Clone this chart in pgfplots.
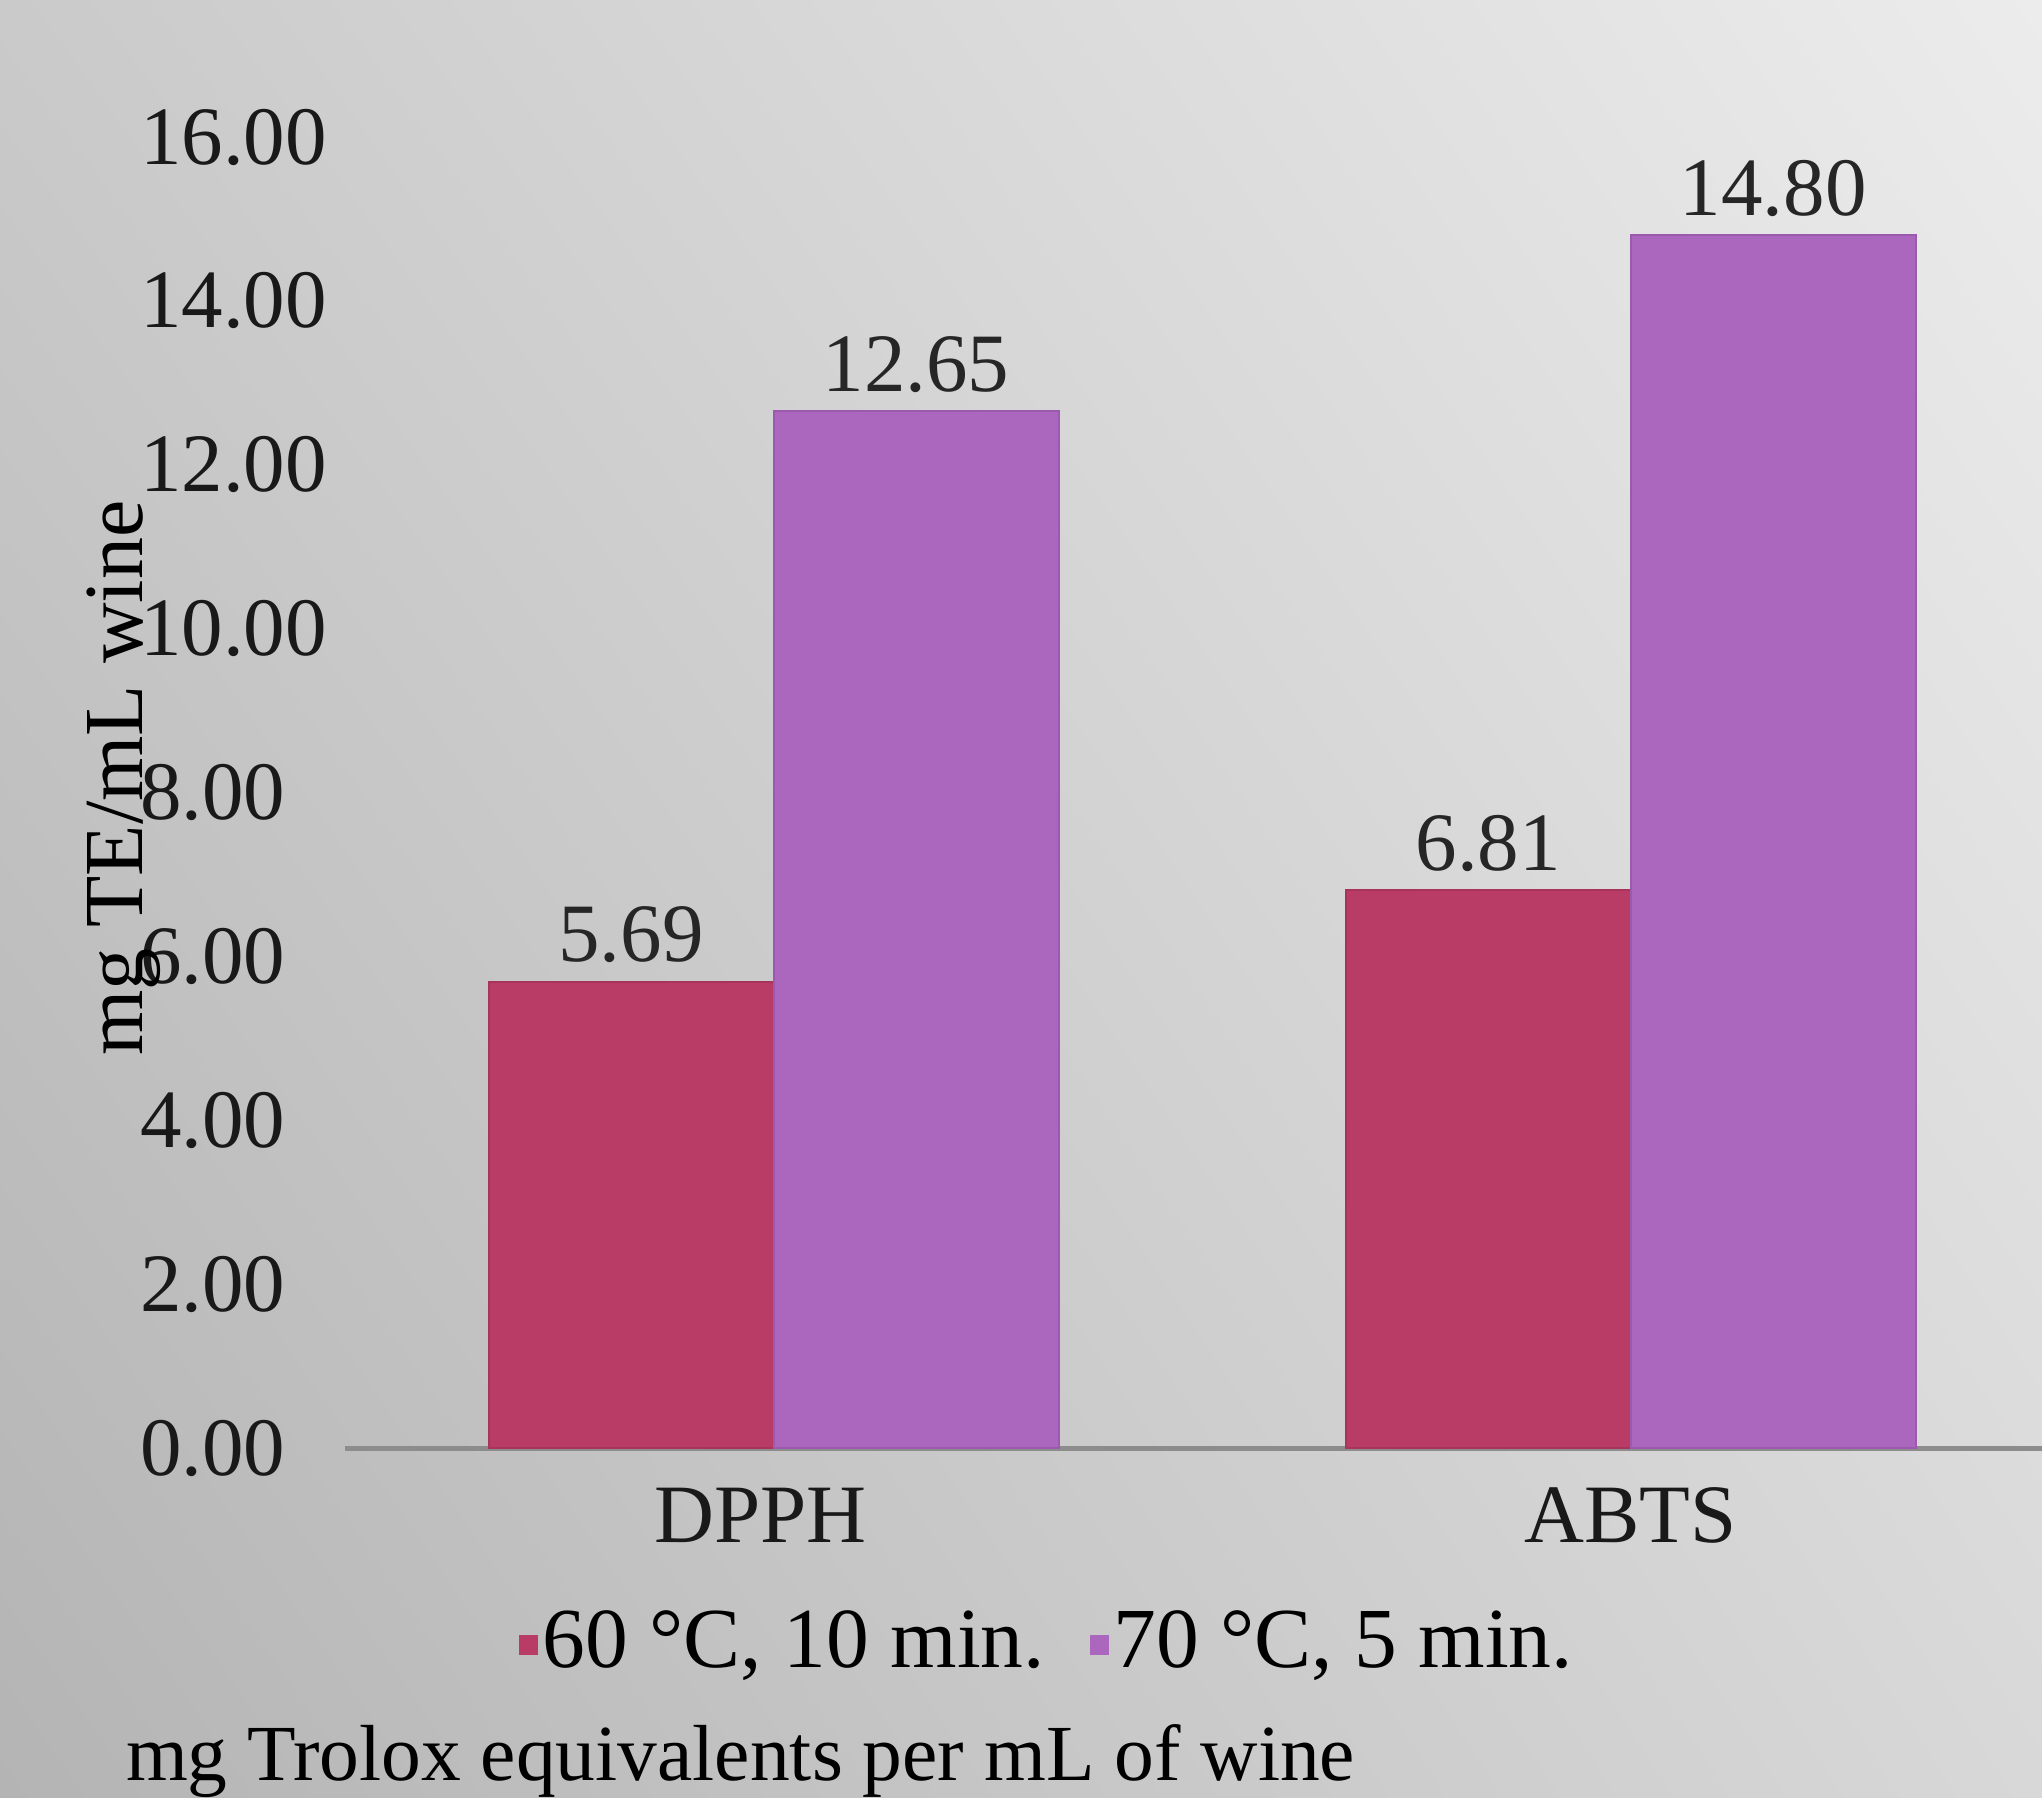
\documentclass[border=0pt]{standalone}
\usepackage{fontspec}
\setmainfont{Liberation Serif}
\usepackage{pgfplots}
\pgfplotsset{compat=1.18}
\usetikzlibrary{shadings}
\definecolor{barA}{HTML}{B83C66}
\definecolor{barB}{HTML}{AB66BE}
\definecolor{barAe}{HTML}{A8335C}
\definecolor{barBe}{HTML}{9C5AAE}
\definecolor{bgUL}{HTML}{CACACA}
\definecolor{bgUR}{HTML}{ECECEC}
\definecolor{bgLL}{HTML}{B4B4B4}
\definecolor{bgLR}{HTML}{D8D8D8}
\definecolor{axisgray}{HTML}{8C8C8C}
\newcommand\chfont{\fontsize{16.6}{20}\selectfont}
\begin{document}
\begin{tikzpicture}
\path[use as bounding box] (0,0) rectangle (408.4pt,359.4pt);
\shade[upper left=bgUL, upper right=bgUR, lower left=bgLL, lower right=bgLR] (0,0) rectangle (408.4pt,359.4pt);
\begin{axis}[
  at={(69pt,69.8pt)}, anchor=south west,
  scale only axis, width=339.4pt, height=262.2pt,
  xmin=-0.5, xmax=1.48, ymin=0, ymax=16,
  ytick={0,2,...,16},
  xtick={0,1}, xticklabels={DPPH\rule{5.2pt}{0pt},ABTS},
  axis x line*=bottom, axis y line*=left,
  y axis line style={draw=none},
  x axis line style={draw=axisgray, line width=1pt},
  tick style={draw=none},
  ybar=0pt, bar width=57pt,
  /pgf/number format/assume math mode=true,
  tick label style={font=\chfont, text=black!90},
  yticklabel style={anchor=west, inner sep=0pt, xshift=-41.2pt,
    /pgf/number format/.cd, fixed, fixed zerofill, precision=2},
  xticklabel style={anchor=base, inner sep=0pt, yshift=-14.6pt},
  nodes near coords={\pgfmathprintnumber[fixed,fixed zerofill,precision=2]{\pgfplotspointmeta}},
  nodes near coords style={font=\chfont, anchor=base, inner sep=0pt, yshift=4pt, text=black!85},
  ylabel={mg TE/mL wine},
  ylabel style={at={(axis description cs:-0.1196,0.511)}, anchor=base, rotate=0, inner sep=0pt, font=\fontsize{16.8}{20}\selectfont},
  legend columns=2,
  legend style={at={(axis description cs:0.1019,-0.1487)}, anchor=west, draw=none, fill=none,
    inner sep=0pt, font=\fontsize{17.1}{20}\selectfont, nodes={inner xsep=1pt, inner ysep=0pt},
    /tikz/every even column/.append style={column sep=7.9pt}},
]
\addplot[fill=barA, draw=barAe, line width=0.4pt,
  legend image code/.code={\fill[barA] (0pt,-2.2pt) rectangle (3.4pt,1.4pt);}]
  coordinates {(0,5.69) (1,6.81)};
\addplot[fill=barB, draw=barBe, line width=0.4pt,
  legend image code/.code={\fill[barB] (0pt,-2.2pt) rectangle (3.4pt,1.4pt);}]
  coordinates {(0,12.65) (1,14.80)};
\legend{60 °C{,} 10 min.,70 °C{,} 5 min.}
\end{axis}
\node[anchor=base west, inner sep=0pt, font=\fontsize{15.9}{19}\selectfont] at (25pt,3.4pt) {mg Trolox equivalents per mL of wine};
\end{tikzpicture}
\end{document}
